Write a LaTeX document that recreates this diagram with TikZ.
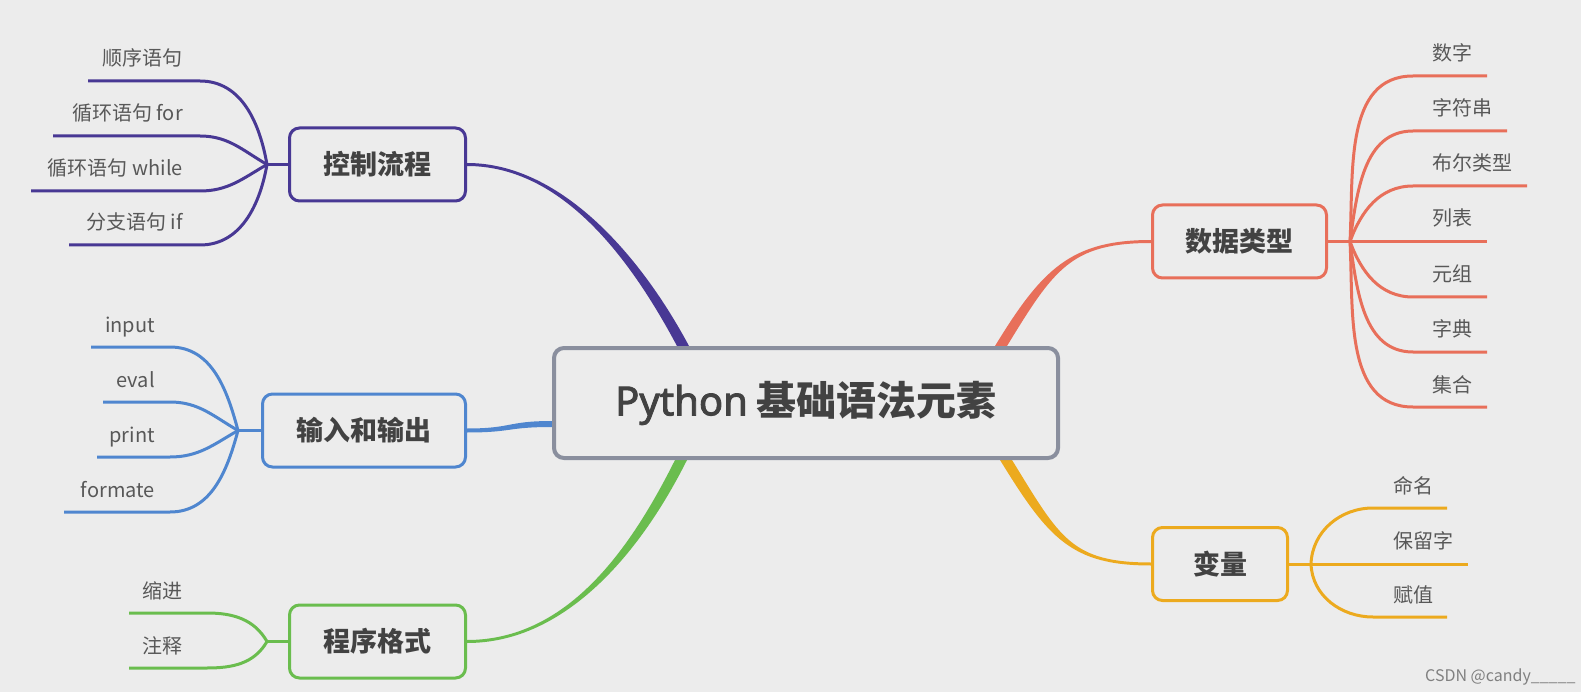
\documentclass[tikz,border=0pt]{standalone}
\usepackage{fontspec}
\setmainfont{Noto Sans CJK SC}
\newfontfamily\pyfont{Noto Sans}
\newcommand{\pyheavy}[1]{\special{pdf:literal direct 2 Tr 0.9 w}#1\special{pdf:literal direct 0 Tr}}
\usepackage{xcolor}
\definecolor{pyPurple}{RGB}{72,56,148}
\definecolor{pyBlue}{RGB}{79,134,207}
\definecolor{pyGreen}{RGB}{106,189,78}
\definecolor{pyRed}{RGB}{232,111,90}
\definecolor{pyYellow}{RGB}{236,170,30}
\definecolor{pyGray}{RGB}{138,143,158}
\definecolor{pyText}{RGB}{88,88,88}
\definecolor{pyDark}{RGB}{66,66,66}
\definecolor{pyBack}{RGB}{236,236,236}
\usetikzlibrary{calc,positioning,backgrounds}

\begin{document}
\begin{tikzpicture}[x=1pt, y=1pt,
    topic/.style={rectangle, rounded corners=10pt, line width=3pt, fill=pyBack,
                  minimum height=73pt, inner sep=0pt, text=pyDark,
                  font=\fontsize{27}{32}\selectfont\bfseries},
    leaf/.style={inner sep=0pt, text=pyText, font=\fontsize{20}{24}\selectfont},
    twig/.style={draw=#1, line width=3pt}
  ]
  \node[topic, draw=pyGray, line width=4pt, minimum width=504pt, minimum height=110pt,
        font=\fontsize{40}{48}\selectfont] (core) at (806,-403)
    {{\pyfont\pyheavy{Python}} \textbf{基础语法元素}};

  \node[topic, draw=pyPurple, minimum width=176pt] (ctl)  at (377.5,-164.5) {控制流程};
  \node[topic, draw=pyBlue,   minimum width=203pt] (io)   at (364,-430.5)   {输入和输出};
  \node[topic, draw=pyGreen,  minimum width=176pt] (prog) at (377.5,-641.5) {程序格式};
  \node[topic, draw=pyRed,    minimum width=174pt] (data) at (1239.5,-241.5) {数据类型};
  \node[topic, draw=pyYellow, minimum width=135pt] (var)  at (1220,-564)    {变量};

  \coordinate (ka) at ($(core.north west)+(131,0)$);
  \coordinate (kb) at ($(core.west)+(0,-21)$);
  \coordinate (kc) at ($(core.south west)+(129,0)$);
  \coordinate (kd) at ($(core.north west)+(449,0)$);
  \coordinate (ke) at ($(core.south west)+(454,0)$);

  \begin{scope}[on background layer]
  \path[use as bounding box, fill=pyBack] (0,0) rectangle (1581,-692);
  \fill[pyPurple] ($(ctl.east)+(0,1.5)$) .. controls +(95,0) and +(-47,88) .. ($(ka)+(6,0)$)
    -- ($(ka)+(-6,0)$) .. controls +(-47,88) and +(95,0) .. ($(ctl.east)+(0,-1.5)$) -- cycle;
  \fill[pyBlue] ($(io.east)+(0,2)$) .. controls +(45,0) and +(-45,0) .. ($(kb)+(0,3)$)
    -- ($(kb)+(0,-3)$) .. controls +(-45,0) and +(45,0) .. ($(io.east)+(0,-2)$) -- cycle;
  \fill[pyGreen] ($(prog.east)+(0,-1.5)$) .. controls +(100,0) and +(-45,-90) .. ($(kc)+(6,0)$)
    -- ($(kc)+(-6,0)$) .. controls +(-45,-90) and +(100,0) .. ($(prog.east)+(0,1.5)$) -- cycle;
  \fill[pyRed] ($(data.west)+(0,1.5)$) .. controls +(-80,0) and +(47,77) .. ($(kd)+(-6,0)$)
    -- ($(kd)+(6,0)$) .. controls +(47,77) and +(-80,0) .. ($(data.west)+(0,-1.5)$) -- cycle;
  \fill[pyYellow] ($(var.west)+(0,-1.5)$) .. controls +(-80,0) and +(48,-78) .. ($(ke)+(-6,0)$)
    -- ($(ke)+(6,0)$) .. controls +(48,-78) and +(-80,0) .. ($(var.west)+(0,1.5)$) -- cycle;
  \end{scope}

  \coordinate (cj) at ($(ctl.west)+(-21,0)$);
  \coordinate (cb) at (200,0);
  \draw[twig=pyPurple] (ctl.west) -- (cj);
  \coordinate (c1) at (88,-81);
  \coordinate (c2) at (53,-136);
  \coordinate (c3) at (31,-191);
  \coordinate (c4) at (69,-245);
  \node[leaf, anchor=base east] (c1t) at (183,-66)  {顺序语句};
  \node[leaf, anchor=base east] (c2t) at (183,-121) {循环语句 for};
  \node[leaf, anchor=base east] (c3t) at (183,-176) {循环语句 while};
  \node[leaf, anchor=base east] (c4t) at (183,-230) {分支语句 if};
  \draw[twig=pyPurple] (cj) to[out=100,in=0] (c1 -| cb) -- (c1);
  \draw[twig=pyPurple] (cj) to[out=150,in=0] (c2 -| cb) -- (c2);
  \draw[twig=pyPurple] (cj) to[out=210,in=0] (c3 -| cb) -- (c3);
  \draw[twig=pyPurple] (cj) to[out=260,in=0] (c4 -| cb) -- (c4);

  \coordinate (ij) at ($(io.west)+(-23,0)$);
  \coordinate (ib) at (170,0);
  \draw[twig=pyBlue] (io.west) -- (ij);
  \coordinate (i1) at (91,-347);
  \coordinate (i2) at (103,-402);
  \coordinate (i3) at (97,-457);
  \coordinate (i4) at (64,-512);
  \node[leaf, anchor=base east] (i1t) at (155,-332) {input};
  \node[leaf, anchor=base east] (i2t) at (155,-387) {eval};
  \node[leaf, anchor=base east] (i3t) at (155,-442) {print};
  \node[leaf, anchor=base east] (i4t) at (155,-497) {formate};
  \draw[twig=pyBlue] (ij) to[out=105,in=0] (i1 -| ib) -- (i1);
  \draw[twig=pyBlue] (ij) to[out=150,in=0] (i2 -| ib) -- (i2);
  \draw[twig=pyBlue] (ij) to[out=210,in=0] (i3 -| ib) -- (i3);
  \draw[twig=pyBlue] (ij) to[out=255,in=0] (i4 -| ib) -- (i4);

  \coordinate (pj) at ($(prog.west)+(-21,0)$);
  \coordinate (pb) at (207,0);
  \draw[twig=pyGreen] (prog.west) -- (pj);
  \coordinate (p1) at (129,-613);
  \coordinate (p2) at (129,-668);
  \node[leaf, anchor=base east] (p1t) at (183,-598) {缩进};
  \node[leaf, anchor=base east] (p2t) at (183,-653) {注释};
  \draw[twig=pyGreen] (pj) to[out=120,in=0] (p1 -| pb) -- (p1);
  \draw[twig=pyGreen] (pj) to[out=240,in=0] (p2 -| pb) -- (p2);

  \coordinate (dj) at ($(data.east)+(22,0)$);
  \coordinate (db) at (1413,0);
  \draw[twig=pyRed] (data.east) -- (dj);
  \coordinate (d1) at (1487,-76);
  \coordinate (d2) at (1507,-131);
  \coordinate (d3) at (1527,-186);
  \coordinate (d4) at (1487,-241.5);
  \coordinate (d5) at (1487,-297);
  \coordinate (d6) at (1487,-352);
  \coordinate (d7) at (1487,-407);
  \node[leaf, anchor=base west] (d1t) at (1432,-61)  {数字};
  \node[leaf, anchor=base west] (d2t) at (1432,-116) {字符串};
  \node[leaf, anchor=base west] (d3t) at (1432,-171) {布尔类型};
  \node[leaf, anchor=base west] (d4t) at (1432,-226) {列表};
  \node[leaf, anchor=base west] (d5t) at (1432,-282) {元组};
  \node[leaf, anchor=base west] (d6t) at (1432,-337) {字典};
  \node[leaf, anchor=base west] (d7t) at (1432,-392) {集合};
  \draw[twig=pyRed] (dj) to[out=87,in=180] (d1 -| db) -- (d1);
  \draw[twig=pyRed] (dj) to[out=82,in=180] (d2 -| db) -- (d2);
  \draw[twig=pyRed] (dj) to[out=70,in=180] (d3 -| db) -- (d3);
  \draw[twig=pyRed] (dj) -- (d4);
  \draw[twig=pyRed] (dj) to[out=-70,in=180] (d5 -| db) -- (d5);
  \draw[twig=pyRed] (dj) to[out=-82,in=180] (d6 -| db) -- (d6);
  \draw[twig=pyRed] (dj) to[out=-87,in=180] (d7 -| db) -- (d7);

  \coordinate (vj) at ($(var.east)+(22,0)$);
  \coordinate (vb) at (1373,0);
  \draw[twig=pyYellow] (var.east) -- (vj);
  \coordinate (v1) at (1447,-508);
  \coordinate (v2) at (1468,-564);
  \coordinate (v3) at (1447,-617);
  \node[leaf, anchor=base west] (v1t) at (1393,-493) {命名};
  \node[leaf, anchor=base west] (v2t) at (1393,-548) {保留字};
  \node[leaf, anchor=base west] (v3t) at (1393,-602) {赋值};
  \draw[twig=pyYellow] (vj) to[out=88,in=180] (v1 -| vb) -- (v1);
  \draw[twig=pyYellow] (vj) -- (v2);
  \draw[twig=pyYellow] (vj) to[out=-88,in=180] (v3 -| vb) -- (v3);

  \node[anchor=base west, inner sep=0pt, text=black!50, font=\fontsize{16}{19}\selectfont]
    (mark) at (1425,-681) {CSDN @candy\_\_\_\_\_};
\end{tikzpicture}
\end{document}
